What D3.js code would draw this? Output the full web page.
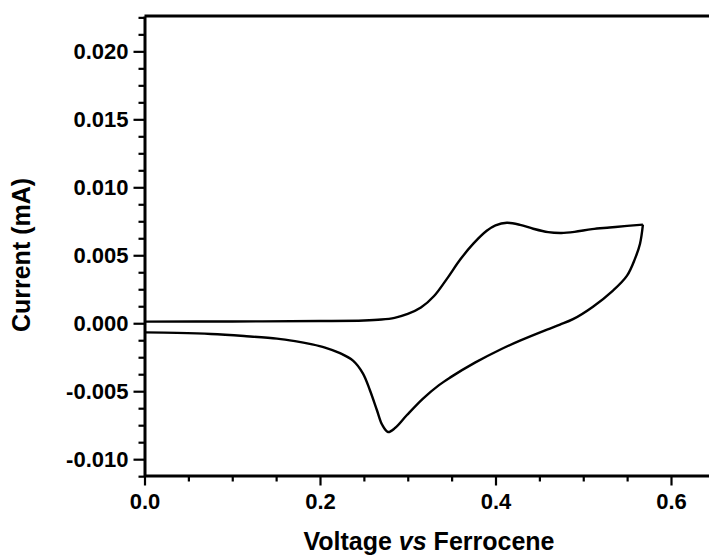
<!DOCTYPE html>
<html>
<head>
<meta charset="utf-8">
<script src="https://cdn.jsdelivr.net/npm/d3@7"></script>
<style>
  html, body { margin: 0; padding: 0; background: #fff; }
  svg { display: block; }
  text { font-family: "Liberation Sans", Arial, sans-serif; font-weight: bold; fill: #000; }
</style>
</head>
<body>
<script>
// Forward (oxidation) scan: voltage (V vs Fc) and current (mA)
const forwardV = [0.000, 0.100, 0.200, 0.250, 0.270, 0.285, 0.300, 0.315, 0.330, 0.345, 0.360, 0.375, 0.390, 0.400, 0.413, 0.428, 0.443, 0.460, 0.475, 0.490, 0.510, 0.530, 0.550, 0.568];
const forwardI = [0.00012, 0.00013, 0.00016, 0.00020, 0.00027, 0.00040, 0.00068, 0.00115, 0.00200, 0.00330, 0.00470, 0.00587, 0.00680, 0.00720, 0.00739, 0.00724, 0.00695, 0.00670, 0.00664, 0.00672, 0.00692, 0.00704, 0.00716, 0.00725];
// Reverse (reduction) scan
const reverseV = [0.568, 0.5647, 0.559, 0.5499, 0.5339, 0.5111, 0.4883, 0.4735, 0.4587, 0.4279, 0.4051, 0.3766, 0.3481, 0.3356, 0.3174, 0.2991, 0.2855, 0.2775, 0.2707, 0.2650, 0.2570, 0.2490, 0.2376, 0.2228, 0.2057, 0.1897, 0.1715, 0.1510, 0.1134, 0.0758, 0.0370, 0.000];
const reverseI = [0.00725, 0.00585, 0.00475, 0.00350, 0.00240, 0.00122, 0.00030, -0.00010, -0.00047, -0.00128, -0.00195, -0.00290, -0.00400, -0.00455, -0.00554, -0.00675, -0.00771, -0.00800, -0.00745, -0.00642, -0.00495, -0.00370, -0.00275, -0.00220, -0.00179, -0.00154, -0.00132, -0.00113, -0.00094, -0.00079, -0.00071, -0.00067];

const xMajor = [0.0, 0.2, 0.4, 0.6];
const xMinor = [0.05, 0.1, 0.15, 0.25, 0.3, 0.35, 0.45, 0.5, 0.55, 0.65];
const yMajor = [-0.010, -0.005, 0.000, 0.005, 0.010, 0.015, 0.020];
const yMinor = [-0.01125, -0.00875, -0.0075, -0.00625, -0.00375, -0.0025, -0.00125, 0.00125, 0.0025, 0.00375, 0.00625, 0.0075, 0.00875, 0.01125, 0.0125, 0.01375, 0.01625, 0.0175, 0.01875, 0.02125, 0.0225];

const xTitle = "Voltage";
const yTitle = "Current (mA)";

const W = 709, H = 557;
const mLeft = 144.5, mTop = 16, mBottom = 475.5;
const xMax = 0.65;

const svg = d3.select("body").append("svg").attr("width", W).attr("height", H);

const x = d3.scaleLinear().domain([0, xMax]).range([mLeft, mLeft + xMax * 877.5]);
const y = d3.scaleLinear().domain([-0.0112, 0.0226]).range([mBottom, mTop]);

// curve
const fwd = forwardV.map((v, i) => [v, forwardI[i]]);
const rev = reverseV.map((v, i) => [v, reverseI[i]]);
const line = d3.line().x(d => x(d[0])).y(d => y(d[1])).curve(d3.curveCatmullRom.alpha(0.5));
svg.append("path").attr("d", line(fwd)).attr("fill", "none").attr("stroke", "#000").attr("stroke-width", 2.4).attr("stroke-linejoin", "round");
svg.append("path").attr("d", line(rev)).attr("fill", "none").attr("stroke", "#000").attr("stroke-width", 2.4).attr("stroke-linejoin", "round");

// frame: top line
svg.append("line").attr("x1", mLeft).attr("x2", W + 10).attr("y1", mTop).attr("y2", mTop)
  .attr("stroke", "#000").attr("stroke-width", 3);

// x axis
const xAxisMaj = d3.axisBottom(x).tickValues(xMajor).tickFormat(d3.format(".1f")).tickSize(10).tickSizeOuter(0).tickPadding(8);
const gx = svg.append("g").attr("transform", `translate(0,${mBottom})`).call(xAxisMaj);
gx.select(".domain").attr("stroke-width", 3);
gx.selectAll(".tick line").attr("stroke-width", 2.2);
gx.selectAll("text").style("font-size", "22px").style("font-family", "'Liberation Sans', Arial, sans-serif").style("font-weight", "bold");
const gxm = svg.append("g").attr("transform", `translate(0,${mBottom})`)
  .call(d3.axisBottom(x).tickValues(xMinor).tickFormat("").tickSize(6).tickSizeOuter(0));
gxm.select(".domain").remove();
gxm.selectAll(".tick line").attr("stroke-width", 2.2);

// y axis
const yAxisMaj = d3.axisLeft(y).tickValues(yMajor).tickFormat(d3.format(".3f")).tickSize(11).tickSizeOuter(0).tickPadding(5);
const gy = svg.append("g").attr("transform", `translate(${mLeft},0)`).call(yAxisMaj);
gy.select(".domain").attr("stroke-width", 3);
gy.selectAll(".tick line").attr("stroke-width", 2.2);
gy.selectAll("text").style("font-size", "22px").style("font-family", "'Liberation Sans', Arial, sans-serif").style("font-weight", "bold");
gy.selectAll("text").text(d => d3.format(".3f")(d).replace("−", "-"));
const gym = svg.append("g").attr("transform", `translate(${mLeft},0)`)
  .call(d3.axisLeft(y).tickValues(yMinor).tickFormat("").tickSize(6).tickSizeOuter(0));
gym.select(".domain").remove();
gym.selectAll(".tick line").attr("stroke-width", 2.2);

// titles
const xt = svg.append("text").attr("x", 429).attr("y", 550).attr("text-anchor", "middle").style("font-size", "25px");
xt.append("tspan").text(xTitle + " ");
xt.append("tspan").style("font-style", "italic").text("vs");
xt.append("tspan").text(" Ferrocene");

svg.append("text").attr("transform", "translate(30,255) rotate(-90)").attr("text-anchor", "middle")
  .style("font-size", "25px").text(yTitle);
</script>
</body>
</html>
